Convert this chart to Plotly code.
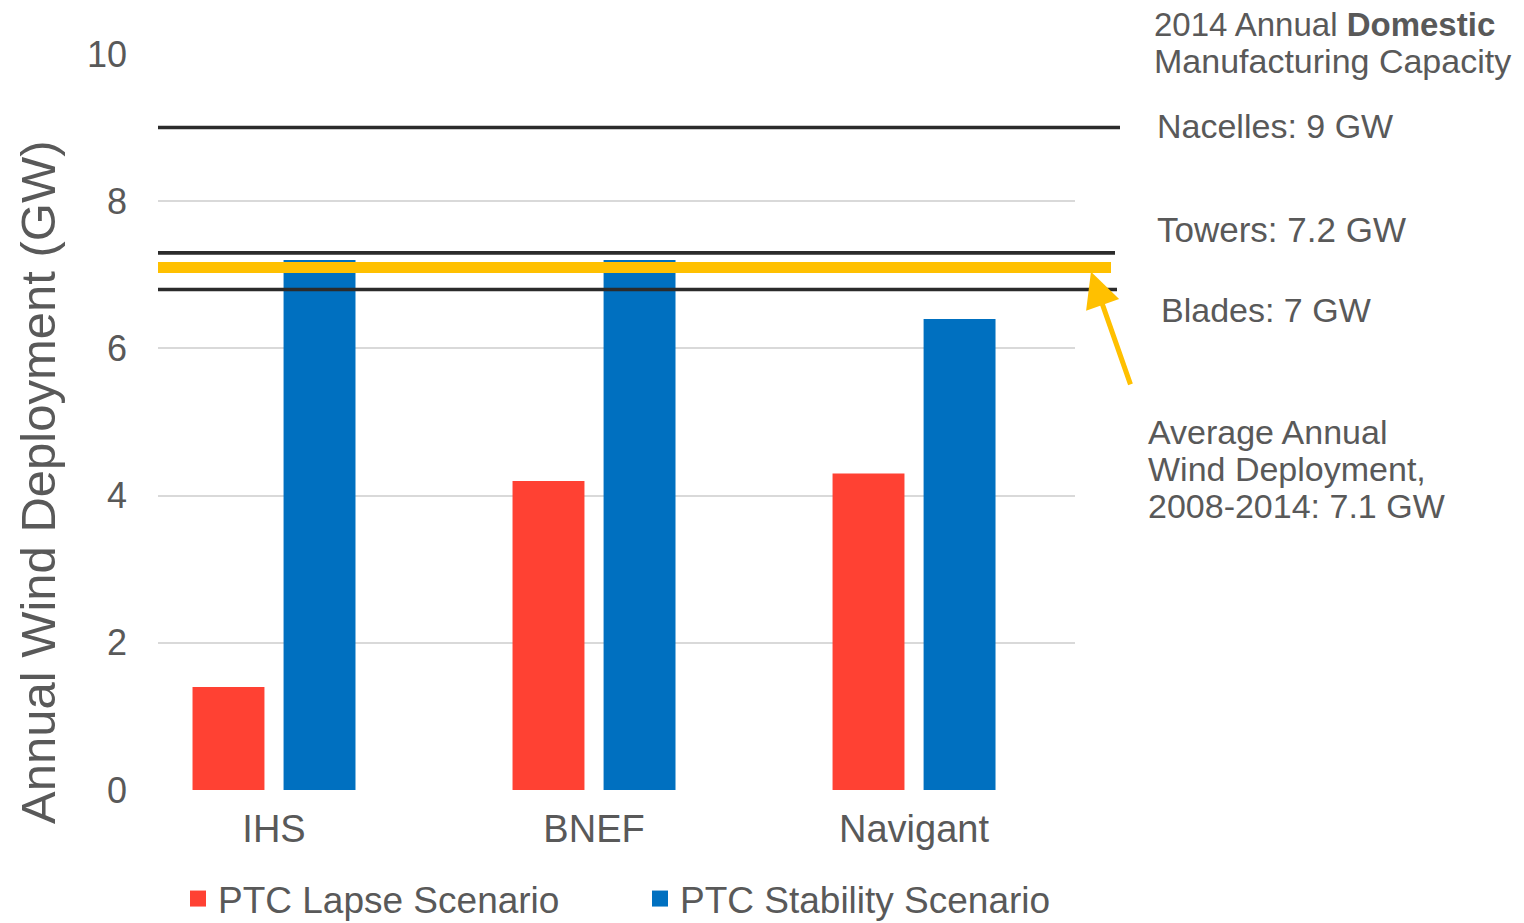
import plotly.graph_objects as go

categories = ["IHS", "BNEF", "Navigant"]
lapse_values = [1.4, 4.2, 4.3]
stability_values = [7.2, 7.2, 6.4]
series_names = ["PTC Lapse Scenario", "PTC Stability Scenario"]
series_colors = ["#FF4133", "#0070C0"]
y_ticks = [0, 2, 4, 6, 8, 10]

# reference lines (as drawn in the picture)
capacity_labels = ["Nacelles: 9 GW", "Towers: 7.2 GW", "Blades: 7 GW"]
capacity_drawn = [9.0, 7.3, 6.8]
avg_deployment = 7.1
avg_label_lines = ["Average Annual", "Wind Deployment,", "2008-2014: 7.1 GW"]

FONT = "Liberation Sans, Arial, sans-serif"
GRAY = "#595959"

fig = go.Figure()
for vals, name, col, lg in zip([lapse_values, stability_values], series_names,
                               series_colors, ["legend", "legend2"]):
    fig.add_trace(go.Bar(x=[0, 1, 2], y=vals, name=name, showlegend=False,
                         marker=dict(color=col, line=dict(width=0))))
    # legend entry with a larger square key
    fig.add_trace(go.Scatter(x=[None], y=[None], mode="markers", name=name,
                             marker=dict(symbol="square", size=16, color=col),
                             legend=lg, showlegend=True))

# plot area: x 158..1075 px, y 54..790 px
L, R, T, B = 158, 449, 54, 133
pw = 1524 - L - R
ph = 923 - T - B

def px_to_paper(px):
    return (px - L) / pw

def py_to_paper(py):
    return (923 - B - py) / ph

line_ends = [1120, 1115, 1117]
for val, xe in zip(capacity_drawn, line_ends):
    fig.add_shape(type="line", xref="paper", yref="y", x0=0, x1=px_to_paper(xe),
                  y0=val, y1=val, line=dict(color="#2B2B2B", width=3.5), layer="above")
fig.add_shape(type="line", xref="paper", yref="y", x0=0, x1=px_to_paper(1111),
              y0=avg_deployment, y1=avg_deployment,
              line=dict(color="#FFC000", width=11), layer="above")
# redraw towers line above yellow
fig.add_shape(type="line", xref="paper", yref="y", x0=0, x1=px_to_paper(1115),
              y0=capacity_drawn[1], y1=capacity_drawn[1],
              line=dict(color="#2B2B2B", width=3.5), layer="above")

def ann(text, xpx, ypx, size=34, **kw):
    fig.add_annotation(text=text, xref="paper", yref="paper",
                       x=px_to_paper(xpx), y=py_to_paper(ypx),
                       xanchor="left", yanchor="middle", showarrow=False,
                       font=dict(family=FONT, size=size, color=GRAY), align="left", **kw)

ann("2014 Annual <b>Domestic</b>", 1152, 24, size=33)
ann("Manufacturing Capacity", 1152, 61)
ann(capacity_labels[0], 1155, 126)
ann(capacity_labels[1], 1155, 230, size=35)
ann(capacity_labels[2], 1159, 310)
for line, ypx in zip(avg_label_lines, [432, 469, 506]):
    ann(line, 1146, ypx)

# arrow
fig.add_annotation(x=px_to_paper(1091), y=avg_deployment - 0.06, xref="paper", yref="y",
                   ax=40, ay=114, axref="pixel", ayref="pixel", text="",
                   showarrow=True, arrowhead=2, arrowsize=1.4, arrowwidth=5,
                   arrowcolor="#FFC000")

# y axis title
fig.add_annotation(text="Annual Wind Deployment (GW)", xref="paper", yref="paper",
                   x=px_to_paper(38), y=py_to_paper(482), textangle=-90,
                   showarrow=False, xanchor="center", yanchor="middle",
                   font=dict(family=FONT, size=49, color=GRAY))

legend_common = dict(orientation="h", xanchor="left", yanchor="middle",
                     y=py_to_paper(899), font=dict(size=37, color=GRAY, family=FONT),
                     bgcolor="rgba(0,0,0,0)", itemsizing="trace")

fig.update_layout(
    width=1524, height=923,
    margin=dict(l=L, r=R, t=T, b=B, autoexpand=False),
    paper_bgcolor="white", plot_bgcolor="white",
    barmode="group", bargap=0.431, bargroupgap=0.21,
    font=dict(family=FONT, color=GRAY),
    showlegend=True,
    legend=dict(x=px_to_paper(178), **legend_common),
    legend2=dict(x=px_to_paper(640), **legend_common),
    xaxis=dict(tickmode="array", tickvals=[0, 1, 2], ticktext=categories,
               range=[-0.3625, 2.503], showgrid=False, zeroline=False,
               showline=False, ticks="", tickfont=dict(size=38, color=GRAY),
               ticklabelstandoff=13, automargin=False),
    yaxis=dict(range=[0, 10], tickvals=y_ticks, showgrid=True, gridcolor="#D9D9D9",
               gridwidth=2, zeroline=False, showline=False, ticks="",
               tickfont=dict(size=36, color=GRAY), ticklabelstandoff=30,
               automargin=False),
)

fig.write_html("out.html")
